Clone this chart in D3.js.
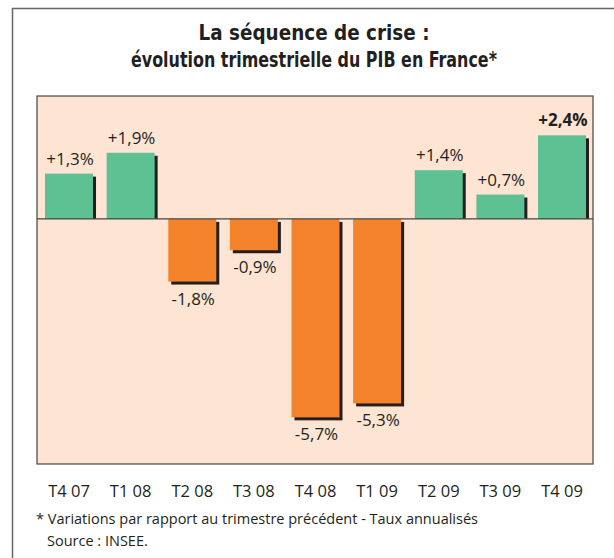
<!DOCTYPE html>
<html>
<head>
<meta charset="utf-8">
<script src="https://cdn.jsdelivr.net/npm/d3@7"></script>
<style>
html,body{margin:0;padding:0;background:#fff;}
svg{display:block;}
</style>
</head>
<body>
<svg id="chart" width="614" height="558"></svg>
<script>
const categories = ["T4 07","T1 08","T2 08","T3 08","T4 08","T1 09","T2 09","T3 09","T4 09"];
const values = [1.3, 1.9, -1.8, -0.9, -5.7, -5.3, 1.4, 0.7, 2.4];
const valueLabels = ["+1,3%","+1,9%","-1,8%","-0,9%","-5,7%","-5,3%","+1,4%","+0,7%","+2,4%"];
const titleLines = ["La séquence de crise :", "évolution trimestrielle du PIB en France*"];
const footnotes = ["* Variations par rapport au trimestre précédent - Taux annualisés", "Source : INSEE."];

const svg = d3.select("#chart");
const plot = {left: 37, right: 593, top: 96, bottom: 464};

// outer frame
svg.append("path")
  .attr("d", `M12.5,558 L12.5,8.5 L614,8.5`)
  .attr("fill", "none").attr("stroke", "#666").attr("stroke-width", 1.5);

// title
const titleWidths = [231, 366];
const title = svg.append("text")
  .attr("text-anchor", "middle")
  .attr("font-family", "'DejaVu Sans Condensed','Liberation Sans Narrow',sans-serif")
  .attr("font-weight", "bold").attr("font-size", 21).attr("fill", "#231f20");
titleLines.forEach((t, i) => {
  title.append("tspan").attr("x", 314).attr("y", 40 + i * 27)
    .attr("textLength", titleWidths[i]).attr("lengthAdjust", "spacingAndGlyphs").text(t);
});

// plot background
svg.append("rect")
  .attr("x", plot.left).attr("y", plot.top)
  .attr("width", plot.right - plot.left).attr("height", plot.bottom - plot.top)
  .attr("fill", "#fee5d3").attr("stroke", "#444").attr("stroke-width", 1.2);

const x = d3.scaleBand().domain(categories).range([38.2, 592.8])
  .paddingInner(0.221).paddingOuter(0.1105);
const y = d3.scaleLinear().domain([-7.04, 3.53]).range([plot.bottom, plot.top]);

const data = categories.map((c, i) => ({c, v: values[i], label: valueLabels[i], bold: i === categories.length - 1}));

// shadows
svg.append("g").selectAll("rect").data(data).join("rect")
  .attr("x", d => x(d.c) + 3)
  .attr("y", d => Math.min(y(d.v), y(0)) + 3)
  .attr("width", x.bandwidth())
  .attr("height", d => Math.abs(y(d.v) - y(0)) - (d.v > 0 ? 3 : 0))
  .attr("fill", "#231f20");

// bars
svg.append("g").selectAll("rect").data(data).join("rect")
  .attr("x", d => x(d.c))
  .attr("y", d => Math.min(y(d.v), y(0)))
  .attr("width", x.bandwidth())
  .attr("height", d => Math.abs(y(d.v) - y(0)))
  .attr("fill", d => d.v >= 0 ? "#5ec194" : "#f5832b");

// zero line
svg.append("line")
  .attr("x1", plot.left).attr("x2", plot.right)
  .attr("y1", y(0)).attr("y2", y(0))
  .attr("stroke", "#444").attr("stroke-width", 1.2);

// value labels
svg.append("g").selectAll("text").data(data).join("text")
  .attr("x", d => x(d.c) + x.bandwidth() / 2 + 1)
  .attr("y", d => d.v >= 0 ? y(d.v) - 9 : y(d.v) + 23)
  .attr("text-anchor", "middle")
  .attr("font-family", "'Open Sans',sans-serif")
  .attr("font-size", 17)
  .attr("font-weight", d => d.bold ? "bold" : "normal")
  .attr("fill", "#231f20")
  .text(d => d.label);

// x axis labels
const xAxis = d3.axisBottom(x).tickSize(0).tickPadding(0);
const gx = svg.append("g").attr("transform", `translate(0,${plot.bottom + 27})`).call(xAxis);
gx.select(".domain").remove();
gx.selectAll("text")
  .attr("font-family", "'Open Sans',sans-serif")
  .attr("font-size", 16.5).attr("fill", "#231f20").attr("dy", "0.35em");

// footnotes
svg.append("text").attr("x", 36).attr("y", 524)
  .attr("font-family", "'Open Sans',sans-serif").attr("font-size", 14.5).attr("fill", "#231f20")
  .attr("textLength", 442).attr("lengthAdjust", "spacingAndGlyphs")
  .text(footnotes[0]);
svg.append("text").attr("x", 47).attr("y", 546)
  .attr("font-family", "'Open Sans',sans-serif").attr("font-size", 14.5).attr("fill", "#231f20")
  .text(footnotes[1]);
</script>
</body>
</html>
